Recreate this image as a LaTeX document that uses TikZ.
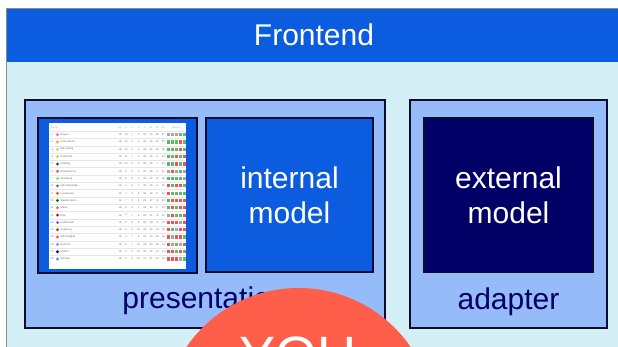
\documentclass[tikz,border=0pt]{standalone}
\usepackage{fontspec}
\setmainfont{Liberation Sans}
\usetikzlibrary{positioning}
\definecolor{HeadBlue}{HTML}{0B5CDE}
\definecolor{BodyCyan}{HTML}{D4F0F6}
\definecolor{BoxBlue}{HTML}{96BBF9}
\definecolor{EdgeNavy}{HTML}{0C0C30}
\definecolor{DeepNavy}{HTML}{000066}
\definecolor{YouRed}{HTML}{FF5E4A}
\definecolor{FrameGray}{HTML}{8A8A8A}
\definecolor{TabGray}{HTML}{6A6A6A}
\definecolor{TabLight}{HTML}{A8A8A8}
\definecolor{TabRule}{HTML}{E6E6E6}
\definecolor{formw}{HTML}{5CBB63}
\definecolor{forml}{HTML}{EE5450}
\definecolor{formd}{HTML}{A6A6A6}
\newcommand{\txtbig}{\fontsize{30}{35}\selectfont}
\newcommand{\txthuge}{\fontsize{54}{60}\selectfont}
\newcommand{\txttiny}{\fontsize{2.6}{3}\selectfont}

\begin{document}
\begin{tikzpicture}[x=1pt, y=-1pt,
    layer/.style={draw=EdgeNavy, line width=1.8pt, fill=BoxBlue, inner sep=0pt},
    model/.style={draw=EdgeNavy, line width=1.6pt, inner sep=0pt, text=white,
      align=center, font=\txtbig},
    caption/.style={text=DeepNavy, font=\txtbig, anchor=base, inner sep=0pt},
    cell/.style={text=TabGray, font=\txttiny, inner sep=0pt}]
    \useasboundingbox (0,0) rectangle (618,346);
    \clip (0,0) rectangle (618,346);

    % Frontend frame and header
    \fill[BodyCyan] (6,8) rectangle (640,360);
    \fill[HeadBlue] (6,8) rectangle (640,62);
    \draw[FrameGray, line width=1pt] (6,360) -- (6,8) -- (640,8);
    \node[text=white, font=\txtbig, anchor=base, inner sep=0pt] (frontend)
      at (314,45.7) {Frontend};

    % Presentation layer
    \node[layer, minimum width=360, minimum height=228] (presentation)
      at (205,214) {};
    \node[caption] (presentationlabel) at (205,308) {presentation};

    % Screenshot of the standings
    \node[draw=EdgeNavy, line width=1.8pt, fill=HeadBlue, inner sep=0pt,
      minimum width=159, minimum height=155] (standings) at (117.5,195.5) {};
    \node[fill=white, inner sep=0pt, minimum width=137, minimum height=146]
      (table) at (117.5,196) {};
    \node[cell, anchor=west, text=TabLight] (clubhead) at (50.5,128) {Verein};
    \foreach \h [count=\c] in {Sp.,S,U,N,T,GT,TD,Pkt.}
      \node[cell, text=TabLight] (head\c) at ({113.8+\c*6.2},128) {\h};
    \node[cell, text=TabLight] (formhead) at (176.4,128) {Letzte 5};
    \draw[TabRule, line width=0.4pt] (50,131) -- (185,131);
    \foreach \i/\team/\stats/\form/\logo in {
        1/Bayern/{18,10,7,1,53,15,38,37}/{d,d,d,w,w}/magenta!60,
        2/Union Berlin/{18,10,5,3,31,20,11,35}/{w,w,w,l,w}/orange!80,
        3/RB Leipzig/{18,10,5,3,39,24,15,35}/{w,w,w,l,w}/red!30,
        4/Dortmund/{18,11,1,6,33,25,8,34}/{w,w,l,w,l}/yellow!80!black,
        5/Freiburg/{18,10,4,4,26,25,1,34}/{w,w,l,w,l}/black!70,
        6/Eintracht Fra…/{18,9,5,4,37,28,9,32}/{d,l,d,w,d}/red!70,
        7/Wolfsburg/{18,8,5,5,33,22,11,29}/{w,w,w,w,d}/green!60,
        8/Mönchengladb…/{18,7,4,7,34,29,5,25}/{l,w,l,l,w}/black!60,
        9/Leverkusen/{18,7,3,8,30,30,0,24}/{l,w,w,w,w}/orange!70!red,
        10/Werder Brem…/{18,7,3,8,29,37,-8,24}/{w,l,l,l,l}/green!50!black,
        11/Mainz/{18,6,5,7,26,26,0,23}/{w,l,w,l,l}/red!60,
        12/Köln/{18,5,7,6,25,31,-6,22}/{d,l,w,w,l}/red!80!black,
        13/Hoffenheim/{18,5,4,9,23,28,-5,19}/{l,l,l,d,l}/blue!60,
        14/Augsburg/{18,5,3,10,23,33,-10,18}/{l,w,d,l,l}/red!70!green,
        15/VfB Stuttgart/{18,3,7,8,23,33,-10,16}/{l,d,l,l,w}/red!70,
        16/Bochum/{18,5,1,12,18,44,-26,16}/{l,d,w,d,l}/blue!50,
        17/Hertha/{18,3,5,10,20,32,-12,14}/{l,l,w,l,w}/blue!70!black,
        18/Schalke/{18,2,4,12,14,41,-27,10}/{l,l,l,d,w}/blue!50}{
      \pgfmathsetmacro{\ry}{134.7+(\i-1)*7.31}
      \node[cell] (rank\i) at (52.3,\ry) {\i};
      \fill[\logo] (57.5,\ry) circle (1.6);
      \node[cell, anchor=west] (team\i) at (60.5,\ry) {\team};
      \foreach \s [count=\c] in \stats
        \node[cell] (st\i-\c) at ({113.8+\c*6.2},\ry) {\s};
      \foreach \f [count=\k] in \form
        \fill[form\f] ({163.1+\k*3.9},\ry-1.6) rectangle +(3.2,3.2);
      \ifnum\i<18
        \draw[TabRule, line width=0.3pt] (50,\ry+3.65) -- (185,\ry+3.65);
      \fi
    }

    % Internal model
    \node[model, fill=HeadBlue, minimum width=167, minimum height=154]
      (internal) at (289.5,195) {internal\\model};

    % Adapter layer with external model
    \node[layer, minimum width=197, minimum height=228] (adapter)
      at (508.5,214) {};
    \node[caption] (adapterlabel) at (508.5,309) {adapter};
    \node[model, fill=DeepNavy, minimum width=169, minimum height=154.5]
      (external) at (508.5,195.2) {external\\model};

    % YOU circle
    \node[circle, fill=YouRed, inner sep=0pt, minimum size=272] (you)
      at (298.5,424) {};
    \node[text=white, font=\txthuge, anchor=base, inner sep=0pt] (youlabel)
      at (298,374) {YOU};
\end{tikzpicture}
\end{document}
